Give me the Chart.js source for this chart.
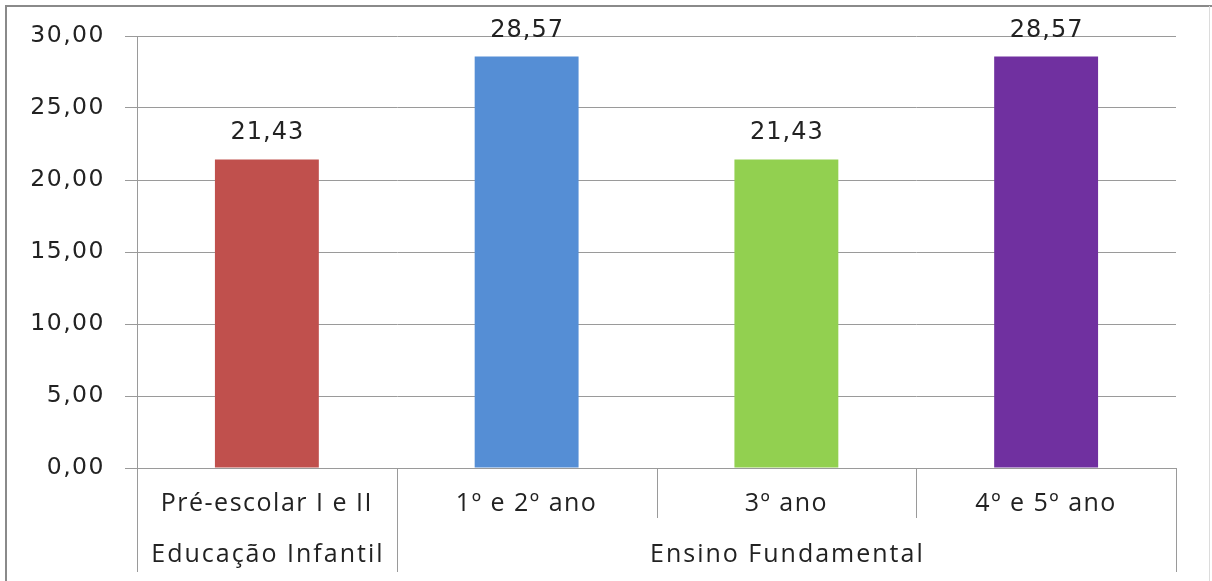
<!DOCTYPE html>
<html>
<head>
<meta charset="utf-8">
<script src="https://cdn.jsdelivr.net/npm/chart.js@4"></script>
<style>
  html, body { margin: 0; padding: 0; background: #fff; }
  #wrap { width: 1212px; height: 581px; position: relative; }
</style>
</head>
<body>
<div id="wrap"><canvas id="chart"></canvas></div>
<script>
// dados
const categories = ["Pré-escolar I e II", "1º e 2º ano", "3º ano", "4º e 5º ano"];
const values = [21.43, 28.57, 21.43, 28.57];
const barColors = ["#C0504D", "#558ED5", "#92D050", "#7030A0"];
const groups = [
  { label: "Educação Infantil", from: 0, to: 0 },
  { label: "Ensino Fundamental", from: 1, to: 3 }
];
const yTicks = [0, 5, 10, 15, 20, 25, 30];

const fmt = v => v.toFixed(2).replace(".", ",");
const gridColor = "#9a9a9a";

// moldura cinza em volta + espaçamento das letras (o original é esticado)
const frame = {
  id: "frame",
  beforeDraw(chart) {
    const c = chart.ctx;
    c.save();
    c.fillStyle = "#fff";
    c.fillRect(0, 0, chart.width, chart.height);
    c.strokeStyle = "#8a8a8a";
    c.lineWidth = 2;
    c.beginPath();
    c.moveTo(6, 581); c.lineTo(6, 6); c.lineTo(1212, 6);
    c.stroke();
    c.strokeStyle = "#dcdcdc";
    c.lineWidth = 1;
    c.beginPath();
    c.moveTo(1209.5, 6); c.lineTo(1209.5, 581);
    c.stroke();
    c.restore();
    c.letterSpacing = "1.5px";
  }
};

// separadores das categorias e rótulos dos grupos
const groupAxis = {
  id: "groupAxis",
  afterDraw(chart) {
    const x = chart.scales.x, c = chart.ctx;
    const w = (x.right - x.left) / categories.length;
    const edge = i => x.getPixelForValue(i) - w / 2;
    const top = x.top;
    const groupEdges = new Set();
    groups.forEach(g => { groupEdges.add(g.from); groupEdges.add(g.to + 1); });
    c.save();
    c.strokeStyle = gridColor;
    c.lineWidth = 1;
    for (let i = 0; i <= categories.length; i++) {
      const px = Math.round(edge(i)) + 0.5;
      c.beginPath();
      c.moveTo(px, top);
      c.lineTo(px, groupEdges.has(i) ? top + 104 : top + 50);
      c.stroke();
    }
    c.fillStyle = "#222";
    c.font = "25px 'Open Sans'";
    c.letterSpacing = "2px";
    c.textAlign = "center";
    c.textBaseline = "middle";
    groups.forEach(g => {
      const cx = (edge(g.from) + edge(g.to + 1)) / 2;
      c.fillText(g.label, cx + 1, top + 87);
    });
    c.restore();
  }
};

// valores acima das barras
const barValues = {
  id: "barValues",
  afterDatasetsDraw(chart) {
    const c = chart.ctx;
    const meta = chart.getDatasetMeta(0);
    c.save();
    c.fillStyle = "#222";
    c.font = "24px 'DejaVu Sans'";
    c.letterSpacing = "1px";
    c.textAlign = "center";
    c.textBaseline = "alphabetic";
    meta.data.forEach((bar, i) => {
      c.fillText(fmt(values[i]), bar.x + 0.5, bar.y - 20);
    });
    c.restore();
  }
};

new Chart(document.getElementById("chart"), {
  type: "bar",
  data: {
    labels: categories,
    datasets: [{
      data: values,
      backgroundColor: barColors,
      borderWidth: 0,
      barPercentage: 0.4,
      categoryPercentage: 1.0
    }]
  },
  options: {
    responsive: true,
    maintainAspectRatio: false,
    animation: false,
    events: [],
    layout: { padding: { left: 0, right: 36, top: 36, bottom: 9 } },
    plugins: { legend: { display: false }, tooltip: { enabled: false } },
    scales: {
      y: {
        min: 0, max: 30,
        afterBuildTicks: s => { s.ticks = yTicks.map(v => ({ value: v })); },
        afterFit: s => { s.width = 137; },
        grid: { color: gridColor, lineWidth: 1, tickLength: 12 },
        border: { color: gridColor },
        ticks: {
          padding: 20,
          color: "#222",
          font: { family: "'DejaVu Sans'", size: 23.5 },
          callback: v => fmt(v)
        }
      },
      x: {
        afterFit: s => { s.height = 104; },
        grid: { display: false },
        border: { color: gridColor },
        ticks: {
          padding: 13,
          color: "#222",
          maxRotation: 0,
          autoSkip: false,
          font: { family: "'Open Sans'", size: 25 }
        }
      }
    }
  },
  plugins: [frame, groupAxis, barValues]
});
</script>
</body>
</html>
